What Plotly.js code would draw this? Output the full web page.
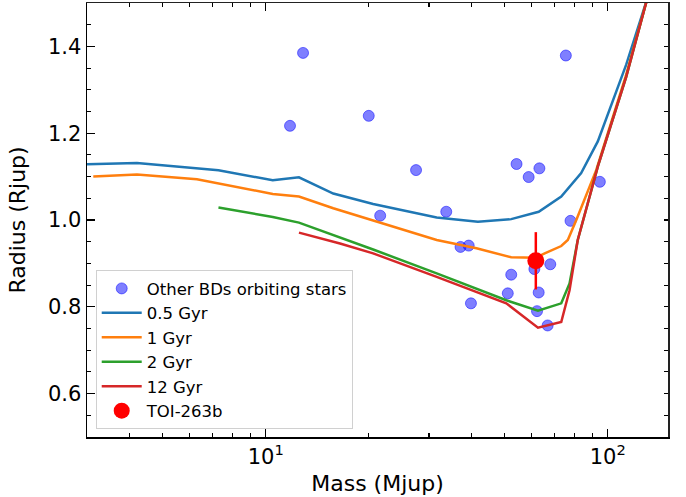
<!DOCTYPE html>
<html>
<head>
<meta charset="utf-8">
<script src="https://cdn.plot.ly/plotly-3.0.1.min.js"></script>
<style>html,body{margin:0;padding:0;background:#fff;}#chart{width:686px;height:497px;}</style>
</head>
<body>
<div id="chart"></div>
<script>
// Other brown dwarfs orbiting stars
const bdMass = [12.85, 11.77, 20.0, 27.5, 21.6, 33.7, 54.1, 58.7, 63.1, 75.4, 94.8, 77.8, 37.1, 39.2, 52.2, 61.0, 67.9, 51.0, 62.8, 39.8, 62.1, 66.7];
const bdRadius = [1.385, 1.217, 1.240, 1.115, 1.010, 1.019, 1.129, 1.099, 1.119, 1.379, 1.088, 0.998, 0.938, 0.941, 0.874, 0.887, 0.898, 0.831, 0.833, 0.808, 0.790, 0.757];

// Isochrones
const m05 = [3.0, 4.2, 7.27, 10.48, 12.5, 15.75, 20.6, 31.6, 41.7, 52.2, 62.8, 73.1, 83.6, 93.5, 113.2, 129.4, 150];
const r05 = [1.1285, 1.1315, 1.1147, 1.0916, 1.0985, 1.061, 1.037, 1.006, 0.996, 1.002, 1.019, 1.054, 1.108, 1.181, 1.358, 1.50, 1.66];

const m1 = [3.13, 4.2, 6.29, 10.48, 12.5, 15.75, 31.6, 41.3, 52.2, 61.5, 65.4, 73.1, 76.4, 80.9, 92.5, 113.2, 129.4, 150];
const r1 = [1.100, 1.1046, 1.094, 1.060, 1.054, 1.027, 0.954, 0.935, 0.914, 0.913, 0.923, 0.940, 0.954, 1.000, 1.115, 1.335, 1.50, 1.66];

const m2 = [7.27, 10.48, 12.5, 16.48, 20.6, 31.6, 50.5, 62.5, 73.1, 77.3, 81.7, 93.5, 113.2, 129.4, 150];
const r2 = [1.029, 1.007, 0.994, 0.960, 0.932, 0.877, 0.815, 0.791, 0.808, 0.854, 0.954, 1.123, 1.33, 1.50, 1.66];

const m12 = [12.5, 16.48, 20.6, 31.6, 50.5, 62.5, 73.1, 77.3, 81.7, 93.5, 113.2, 129.4, 150];
const r12 = [0.971, 0.946, 0.923, 0.869, 0.808, 0.752, 0.765, 0.838, 0.954, 1.123, 1.33, 1.50, 1.66];

// TOI-263b
const toiMass = [61.6];
const toiRadius = [0.906];
const toiRadiusErr = [0.066];

// Tick labels
const majorTicks = [10, 100];
const majorTickText = ['10<sup>1</sup>', '10<sup>2</sup>'];
const minorTicks = [3, 4, 5, 6, 7, 8, 9, 20, 30, 40, 50, 60, 70, 80, 90];
const yTicks = [0.6, 0.8, 1.0, 1.2, 1.4];
const yTickText = ['0.6', '0.8', '1.0', '1.2', '1.4'];

const lineW = 2.5;
const FF = 'DejaVu Sans, sans-serif';
const traces = [
  {x: bdMass, y: bdRadius, mode: 'markers', type: 'scatter', name: 'Other BDs orbiting stars',
   marker: {size: 11, color: 'rgba(0,0,255,0.5)', line: {width: 1, color: 'rgba(0,0,255,0.5)'}}},
  {x: m05, y: r05, mode: 'lines', type: 'scatter', name: '0.5 Gyr', line: {color: '#1f77b4', width: lineW}},
  {x: m1, y: r1, mode: 'lines', type: 'scatter', name: '1 Gyr', line: {color: '#ff7f0e', width: lineW}},
  {x: m2, y: r2, mode: 'lines', type: 'scatter', name: '2 Gyr', line: {color: '#2ca02c', width: lineW}},
  {x: m12, y: r12, mode: 'lines', type: 'scatter', name: '12 Gyr', line: {color: '#d62728', width: lineW}},
  {x: toiMass, y: toiRadius, mode: 'markers', type: 'scatter', name: 'TOI-263b',
   marker: {size: 17, color: '#ff0000'},
   error_y: {type: 'data', array: toiRadiusErr, color: '#ff0000', thickness: 2.5, width: 0}},
  // carrier for mirrored top/right tick axes (point lies outside the visible range)
  {x: [1], y: [0], xaxis: 'x2', yaxis: 'y2', type: 'scatter', mode: 'markers', showlegend: false,
   hoverinfo: 'skip', marker: {size: 1, color: 'rgba(0,0,0,0)'}}
];

const xMinor = {tickmode: 'array', tickvals: minorTicks, ticks: 'inside', ticklen: 4, tickwidth: 1.1, tickcolor: '#000', showgrid: false};
const yMinor = {dtick: 0.05, tick0: 0.5, ticks: 'inside', ticklen: 4, tickwidth: 1.1, tickcolor: '#000', showgrid: false};
const xRange = [Math.log10(3), Math.log10(150)];
const yRange = [0.5, 1.5];

const layout = {
  width: 686, height: 497,
  margin: {l: 87, r: 18, t: 3, b: 60},
  paper_bgcolor: '#fff', plot_bgcolor: '#fff',
  font: {family: FF, color: '#000'},
  showlegend: true,
  legend: {x: 0.015, y: 0.018, xanchor: 'left', yanchor: 'bottom',
    bgcolor: 'rgba(255,255,255,0.8)', bordercolor: '#d0d0d0', borderwidth: 1, itemwidth: 40,
    font: {family: FF, size: 16.5, color: '#000'}, tracegroupgap: 0},
  xaxis: {
    type: 'log', range: xRange,
    tickmode: 'array', tickvals: majorTicks, ticktext: majorTickText,
    ticks: 'inside', ticklen: 8, tickwidth: 1.3, tickcolor: '#000',
    showgrid: false, zeroline: false,
    showline: true, linecolor: '#000', linewidth: 1.5,
    tickfont: {size: 21, family: FF, color: '#000'},
    minor: xMinor,
    title: {text: 'Mass (Mjup)', font: {size: 22, family: FF, color: '#000'}, standoff: 8},
    automargin: false
  },
  yaxis: {
    range: yRange,
    tickmode: 'array', tickvals: yTicks, ticktext: yTickText,
    ticks: 'inside', ticklen: 8, tickwidth: 1.3, tickcolor: '#000',
    showgrid: false, zeroline: false,
    showline: true, linecolor: '#000', linewidth: 1.5,
    tickfont: {size: 21, family: FF, color: '#000'},
    minor: yMinor,
    title: {text: 'Radius (Rjup)', font: {size: 22, family: FF, color: '#000'}, standoff: 16},
    automargin: false
  },
  xaxis2: {
    type: 'log', range: xRange, overlaying: 'x', side: 'top', anchor: 'y2',
    tickmode: 'array', tickvals: majorTicks, ticktext: ['', ''], showticklabels: false,
    ticks: 'inside', ticklen: 8, tickwidth: 1.3, tickcolor: '#000',
    showgrid: false, zeroline: false,
    showline: true, linecolor: '#222', linewidth: 1.5,
    minor: xMinor, automargin: false
  },
  yaxis2: {
    range: yRange, overlaying: 'y', side: 'right', anchor: 'x2',
    tickmode: 'array', tickvals: yTicks, ticktext: ['', '', '', '', ''], showticklabels: false,
    ticks: 'inside', ticklen: 8, tickwidth: 1.3, tickcolor: '#000',
    showgrid: false, zeroline: false,
    showline: true, linecolor: '#222', linewidth: 1.5,
    minor: yMinor, automargin: false
  }
};

Plotly.newPlot('chart', traces, layout, {displayModeBar: false, staticPlot: true});
</script>
</body>
</html>
